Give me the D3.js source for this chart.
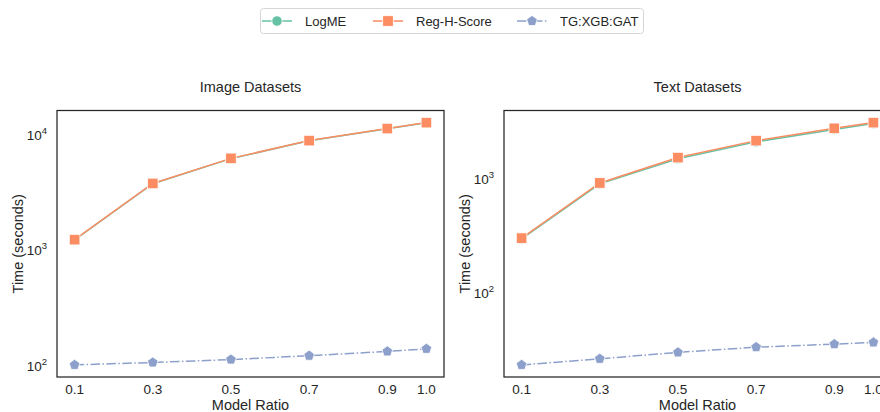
<!DOCTYPE html>
<html>
<head>
<meta charset="utf-8">
<script src="https://cdn.jsdelivr.net/npm/d3@7"></script>
<style>
  body { margin: 0; background: #fff; }
  svg { display: block; font-family: "Liberation Sans", Arial, sans-serif; }
</style>
</head>
<body>
<svg id="chart" width="880" height="412"></svg>
<script>
// donnees
const ratios = [0.1, 0.3, 0.5, 0.7, 0.9, 1.0];
const xTicks = ["0.1", "0.3", "0.5", "0.7", "0.9", "1.0"];
const seriesNames = ["LogME", "Reg-H-Score", "TG:XGB:GAT"];

const imgLogME = [1230, 3780, 6240, 8900, 11300, 12750];
const imgRegH  = [1238, 3800, 6270, 8940, 11370, 12800];
const imgTG    = [101.6, 106.6, 113, 122, 133, 140];

const txtLogME = [298, 900, 1490, 2090, 2680, 3010];
const txtRegH  = [303, 916, 1523, 2140, 2737, 3070];
const txtTG    = [23.9, 27, 30.7, 34.1, 36.2, 37.5];

const colors = ["#66c2a5", "#fc8d62", "#8da0cb"];
const textCol = "#262626";

const svg = d3.select("#chart");

// panneaux
const panels = [
  { title: "Image Datasets", left: 57, series: [imgLogME, imgRegH, imgTG] },
  { title: "Text Datasets", left: 504, series: [txtLogME, txtRegH, txtTG] }
];
const plotTop = 110.5, plotBottom = 377, pw = 387;

// pentagone maison (d3 n'en a pas)
function pentagon(r) {
  let pts = [];
  for (let i = 0; i < 5; i++) {
    let a = -Math.PI / 2 + i * 2 * Math.PI / 5;
    pts.push([r * Math.cos(a), r * Math.sin(a)]);
  }
  return "M" + pts.map(p => p.join(",")).join("L") + "Z";
}

function drawMarker(g, k) {
  if (k === 0) g.append("circle").attr("r", 5.2);
  else if (k === 1) g.append("rect").attr("x", -5.3).attr("y", -5.3).attr("width", 10.6).attr("height", 10.6);
  else g.append("path").attr("d", pentagon(5.6));
}

panels.forEach(function(p) {
  let all = p.series.flat();
  let lo = Math.log10(d3.min(all)), hi = Math.log10(d3.max(all));
  let m = (hi - lo) * 0.05;

  let x = d3.scaleLinear().domain([0.055, 1.045]).range([p.left, p.left + pw]);
  let y = d3.scaleLog().domain([Math.pow(10, lo - m), Math.pow(10, hi + m)]).range([plotBottom, plotTop]);

  let g = svg.append("g");

  // lignes + marqueurs
  p.series.forEach(function(vals, k) {
    let line = d3.line().x((d, i) => x(ratios[i])).y(d => y(d));
    g.append("path").datum(vals)
      .attr("d", line)
      .attr("fill", "none")
      .attr("stroke", colors[k])
      .attr("stroke-width", 1.5)
      .attr("stroke-dasharray", k === 2 ? "9.6,2.4,1.5,2.4" : null);
    vals.forEach(function(v, i) {
      let mg = g.append("g")
        .attr("transform", "translate(" + x(ratios[i]) + "," + y(v) + ")")
        .attr("fill", colors[k]).attr("stroke", "#fff").attr("stroke-width", 0.8);
      drawMarker(mg, k);
    });
  });

  // cadre
  g.append("rect")
    .attr("x", p.left).attr("y", plotTop)
    .attr("width", pw).attr("height", plotBottom - plotTop)
    .attr("fill", "none").attr("stroke", textCol).attr("stroke-width", 1.25);

  // axe x
  g.selectAll(".xt").data(ratios).enter().append("text")
    .attr("x", d => x(d)).attr("y", plotBottom + 17)
    .attr("text-anchor", "middle").attr("font-size", 13.5).attr("fill", textCol)
    .text((d, i) => xTicks[i]);

  g.append("text").attr("x", p.left + pw / 2).attr("y", 410)
    .attr("text-anchor", "middle").attr("font-size", 14.5).attr("fill", textCol)
    .text("Model Ratio");

  // axe y (puissances de 10)
  let [d0, d1] = y.domain();
  let decades = d3.range(Math.ceil(Math.log10(d0)), Math.floor(Math.log10(d1)) + 1);
  decades.forEach(function(e) {
    let t = g.append("text")
      .attr("x", p.left - 10).attr("y", y(Math.pow(10, e)) + 5)
      .attr("text-anchor", "end").attr("font-size", 13.5).attr("fill", textCol);
    t.append("tspan").text("10");
    t.append("tspan").attr("font-size", 9.5).attr("dy", -6).text(e);
  });

  g.append("text")
    .attr("transform", "translate(" + (p.left - 34) + "," + ((plotTop + plotBottom) / 2) + ") rotate(-90)")
    .attr("text-anchor", "middle").attr("font-size", 14.5).attr("fill", textCol)
    .text("Time (seconds)");

  g.append("text").attr("x", p.left + pw / 2).attr("y", 92)
    .attr("text-anchor", "middle").attr("font-size", 14.5).attr("fill", textCol)
    .text(p.title);
});

// legende
let leg = svg.append("g");
leg.append("rect").attr("x", 260.5).attr("y", 8.5).attr("width", 383).attr("height", 25)
  .attr("rx", 3).attr("fill", "#fff").attr("stroke", "#d6d6d6");
let legX = [262, 373, 517];
seriesNames.forEach(function(name, k) {
  let lx = legX[k];
  leg.append("line").attr("x1", lx).attr("x2", lx + 30).attr("y1", 21).attr("y2", 21)
    .attr("stroke", colors[k]).attr("stroke-width", 1.5)
    .attr("stroke-dasharray", k === 2 ? "9.6,2.4,1.5,2.4" : null);
  let mg = leg.append("g").attr("transform", "translate(" + (lx + 15) + ",21)")
    .attr("fill", colors[k]).attr("stroke", "#fff").attr("stroke-width", 0.8);
  drawMarker(mg, k);
  leg.append("text").attr("x", lx + 43).attr("y", 26)
    .attr("font-size", 13).attr("fill", textCol).text(name);
});
</script>
</body>
</html>
